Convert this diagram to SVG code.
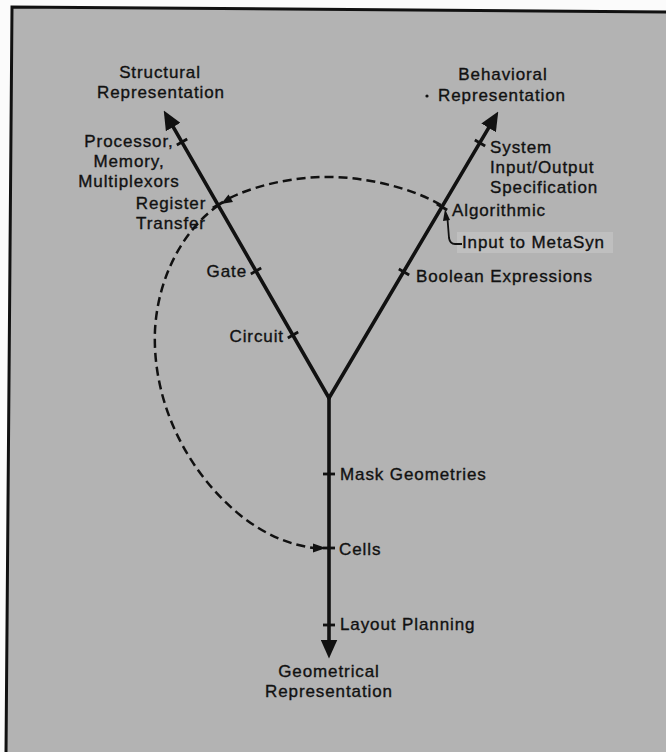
<svg xmlns="http://www.w3.org/2000/svg" width="666" height="752" viewBox="0 0 666 752">
<style>
.lbl{font-family:"Liberation Sans",Arial,sans-serif;font-size:17px;letter-spacing:0.9px;fill:#111;stroke:#111;stroke-width:0.35}
.axis{stroke:#111;stroke-width:3.6;fill:none;stroke-linecap:round}
.tick{stroke:#111;stroke-width:2.8}
.dash{stroke:#111;stroke-width:2.5;fill:none;stroke-dasharray:9 5}
.head{fill:#111}
</style>
<defs>
<marker id="ah" viewBox="0 0 18 16" refX="8" refY="8" markerWidth="19" markerHeight="17" markerUnits="userSpaceOnUse" orient="auto">
<path d="M0,0 L18,8 L0,16 z" fill="#111"/>
</marker>
<line id="tk" x1="-6" y1="0" x2="6" y2="0" class="tick"/>
</defs>
<rect x="0" y="0" width="666" height="752" fill="#fbfbfb"/>
<polygon points="12,7 666,12 666,752 6,752" fill="#b3b3b3"/>
<path d="M6,752 L12,7 L666,12" fill="none" stroke="#111" stroke-width="3"/>
<rect x="457" y="232" width="156" height="21" fill="#bfbfbf"/>

<g id="connectors">
<line class="axis" x1="329" y1="398" x2="169" y2="119.7" marker-end="url(#ah)"/>
<line class="axis" x1="329" y1="398" x2="492.9" y2="120.6" marker-end="url(#ah)"/>
<line class="axis" x1="329" y1="398" x2="329" y2="648" marker-end="url(#ah)"/>
<use href="#tk" transform="translate(182,142) rotate(-29.9)"/>
<use href="#tk" transform="translate(218,205) rotate(-29.9)"/>
<use href="#tk" transform="translate(256,271) rotate(-29.9)"/>
<use href="#tk" transform="translate(293,335) rotate(-29.9)"/>
<use href="#tk" transform="translate(480,143) rotate(30.6)"/>
<use href="#tk" transform="translate(442,207) rotate(30.6)"/>
<use href="#tk" transform="translate(404,272) rotate(30.6)"/>
<use href="#tk" transform="translate(329,474)"/>
<use href="#tk" transform="translate(329,548)"/>
<use href="#tk" transform="translate(329,625)"/>
<path class="dash" d="M441,205 C410,187 362,176 322,177 C282,178 247,189 228,199 M219,205 C185,228 158,275 155,330 C152,400 185,470 240,515 C265,535 290,545 314,548"/>
<polygon class="head" points="221,204 233,202 228.5,194.5"/>
<polygon class="head" points="326,548 313,543.5 313,552.5"/>
<path d="M462,244 L455,244 Q450,244 449,238 L447.5,219" fill="none" stroke="#111" stroke-width="1.8"/>
<polygon class="head" points="445,209 450,220 443,221"/>
</g>

<g id="structural"><text class="lbl" x="160" y="78" text-anchor="middle">Structural</text><text class="lbl" x="161" y="98" text-anchor="middle">Representation</text></g>
<g id="behavioral"><text class="lbl" x="503" y="80" text-anchor="middle">Behavioral</text><circle cx="427" cy="96" r="1.6" fill="#111"/><text class="lbl" x="502" y="101" text-anchor="middle">Representation</text></g>
<g id="geometrical"><text class="lbl" x="329" y="677" text-anchor="middle">Geometrical</text><text class="lbl" x="329" y="697" text-anchor="middle">Representation</text></g>
<g id="processor"><text class="lbl" x="129" y="147" text-anchor="middle">Processor,</text><text class="lbl" x="129" y="167" text-anchor="middle">Memory,</text><text class="lbl" x="129" y="187" text-anchor="middle">Multiplexors</text></g>
<g id="register-transfer"><text class="lbl" x="171" y="209" text-anchor="middle">Register</text><text class="lbl" x="171" y="229" text-anchor="middle">Transfer</text></g>
<g id="gate"><text class="lbl" x="247" y="277" text-anchor="end">Gate</text></g>
<g id="circuit"><text class="lbl" x="284" y="342" text-anchor="end">Circuit</text></g>
<g id="system"><text class="lbl" x="490" y="153">System</text><text class="lbl" x="490" y="173">Input/Output</text><text class="lbl" x="490" y="193">Specification</text></g>
<g id="algorithmic"><text class="lbl" x="452" y="216">Algorithmic</text></g>
<g id="input-metasyn"><text class="lbl" x="462" y="248">Input to MetaSyn</text></g>
<g id="boolean"><text class="lbl" x="416" y="282">Boolean Expressions</text></g>
<g id="mask"><text class="lbl" x="340" y="480">Mask Geometries</text></g>
<g id="cells"><text class="lbl" x="339" y="555">Cells</text></g>
<g id="layout"><text class="lbl" x="340" y="630">Layout Planning</text></g>
</svg>
